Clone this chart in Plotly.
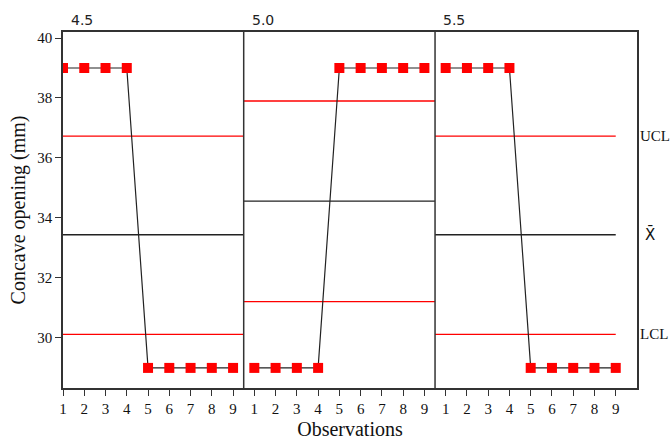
import plotly.graph_objects as go

panels = ["4.5", "5.0", "5.5"]
obs = [1, 2, 3, 4, 5, 6, 7, 8, 9]
values = [
    [39, 39, 39, 39, 29, 29, 29, 29, 29],
    [29, 29, 29, 29, 39, 39, 39, 39, 39],
    [39, 39, 39, 39, 29, 29, 29, 29, 29],
]
ucl = [36.73, 37.90, 36.73]
center = [33.44, 34.56, 33.44]
lcl = [30.12, 31.21, 30.12]
y_ticks = [30, 32, 34, 36, 38, 40]

serif = "Liberation Serif, Times New Roman, serif"
fig = go.Figure()

n = len(obs)
for p in range(len(panels)):
    xs = [p * n + (o - 1) for o in obs]
    left = 0 if p == 0 else p * n - 0.5
    right = (p + 1) * n - 0.5 if p < len(panels) - 1 else (p + 1) * n - 1
    for val, col in [(ucl[p], "#ff0000"), (center[p], "#222222"), (lcl[p], "#ff0000")]:
        fig.add_trace(go.Scatter(x=[left, right], y=[val, val], mode="lines",
                                 line=dict(color=col, width=1.3), showlegend=False,
                                 hoverinfo="skip"))
    fig.add_trace(go.Scatter(x=xs, y=values[p], mode="lines+markers",
                             line=dict(color="#222222", width=1.2),
                             marker=dict(symbol="square", size=10, color="#ff0000",
                                         line=dict(width=0)),
                             showlegend=False))
    if p > 0:
        fig.add_shape(type="line", xref="x", yref="paper", x0=p * n - 0.5, x1=p * n - 0.5,
                      y0=0, y1=1, line=dict(color="#333333", width=1.5))
    fig.add_annotation(x=(p * n - 0.5) if p > 0 else 0, y=1, xref="x", yref="paper",
                       text=panels[p], showarrow=False, xanchor="left", yanchor="bottom",
                       xshift=6, yshift=2,
                       font=dict(family="DejaVu Sans, sans-serif", size=14, color="#222222"))

for txt, val, fam, sz in [("UCL", ucl[2], serif, 15), ("X\u0304", center[2], "DejaVu Sans, sans-serif", 15),
                          ("LCL", lcl[2], serif, 15)]:
    fig.add_annotation(x=27, y=val, xref="x", yref="y", text=txt, showarrow=False,
                       xanchor="left", xshift=1 if txt != "X\u0304" else 6,
                       font=dict(family=fam, size=sz, color="#111111"))

fig.update_xaxes(range=[0, 27], tickvals=list(range(27)),
                 ticktext=[str(o) for _ in panels for o in obs],
                 ticks="outside", ticklen=6, tickcolor="#333333",
                 showline=True, linecolor="#333333", linewidth=1.5, mirror=True,
                 showgrid=False, zeroline=False, automargin=False,
                 tickfont=dict(family=serif, size=15, color="#111111"),
                 title=dict(text="Observations", font=dict(family=serif, size=20, color="#111111"),
                            standoff=6))
fig.update_yaxes(range=[28.33, 40.2], tickvals=y_ticks,
                 ticks="outside", ticklen=6, tickcolor="#333333",
                 showline=True, linecolor="#333333", linewidth=1.5, mirror=True,
                 showgrid=False, zeroline=False, automargin=False,
                 tickfont=dict(family=serif, size=15, color="#111111"),
                 title=dict(text="Concave opening (mm)",
                            font=dict(family=serif, size=20, color="#111111"), standoff=6))

fig.update_layout(width=672, height=441, margin=dict(l=63, r=35, t=32, b=53),
                  plot_bgcolor="white", paper_bgcolor="white")
fig.write_html("out.html")
